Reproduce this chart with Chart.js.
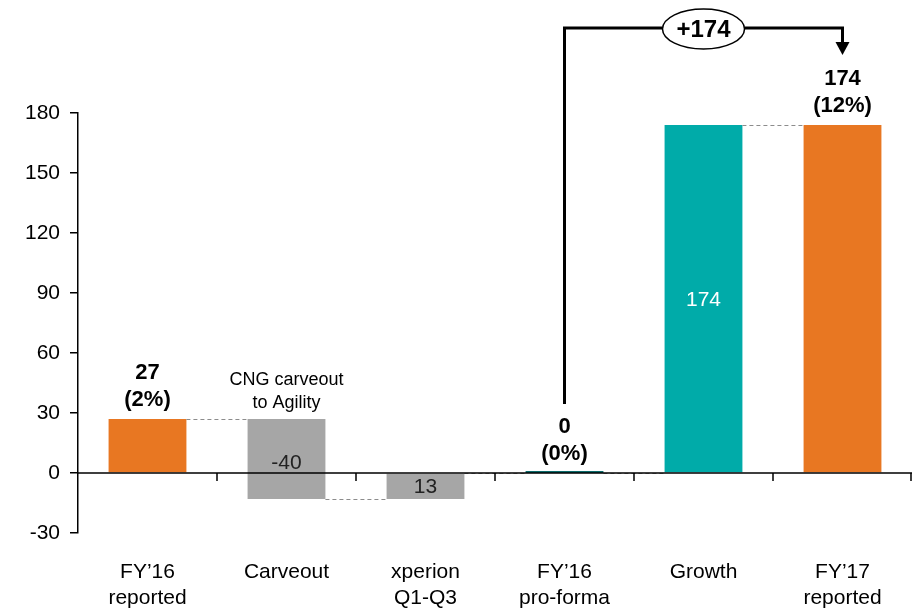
<!DOCTYPE html>
<html lang="en">
<head>
    <meta charset="UTF-8">
    <title>Waterfall</title>
    <script src="https://cdnjs.cloudflare.com/ajax/libs/Chart.js/4.4.0/chart.umd.min.js"></script>
    <style>
        html, body { margin: 0; padding: 0; background: #fff; }
        #wrap { width: 917px; height: 611px; }
    </style>
</head>
<body>
    <div id="wrap"><canvas id="myChart"></canvas></div>

    <script>
        const categories = [['FY\u201916', 'reported'], ['Carveout'], ['xperion', 'Q1-Q3'], ['FY\u201916', 'pro-forma'], ['Growth'], ['FY\u201917', 'reported']];
        // floating bars: [start, end]
        const barRanges = [[0, 27], [27, -13], [-13, 0], [0, 0], [0, 174], [0, 174]];
        const barColors = ['#E87722', '#A6A6A6', '#A6A6A6', '#0B6B6B', '#00ABA9', '#E87722'];
        const totalLabels = [['27', '(2%)'], null, null, ['0', '(0%)'], null, ['174', '(12%)']];
        const innerLabels = [null, '-40', '13', null, '174', null];
        const yTicks = [-30, 0, 30, 60, 90, 120, 150, 180];
        const bridgeLabel = '+174';

        const FONT = 'Liberation Sans, Arial, sans-serif';

        const overlay = {
            id: 'overlay',
            afterDatasetsDraw(chart) {
                const ctx = chart.ctx;
                const x = chart.scales.x, y = chart.scales.y;
                const bars = chart.getDatasetMeta(0).data;
                const area = chart.chartArea;
                const y0 = y.getPixelForValue(0);
                ctx.save();

                // zero-height bar (pro-forma)
                const pf = bars[3];
                ctx.strokeStyle = barColors[3];
                ctx.lineWidth = 2;
                ctx.beginPath();
                ctx.moveTo(pf.x - pf.width / 2, y0 - 1);
                ctx.lineTo(pf.x + pf.width / 2, y0 - 1);
                ctx.stroke();

                // dashed connectors
                ctx.strokeStyle = '#8C8C8C';
                ctx.lineWidth = 1;
                ctx.setLineDash([4, 3]);
                for (let i = 0; i < bars.length - 1; i++) {
                    const lvl = y.getPixelForValue(barRanges[i][1]);
                    ctx.beginPath();
                    ctx.moveTo(bars[i].x + bars[i].width / 2, lvl + 0.5);
                    ctx.lineTo(bars[i + 1].x - bars[i + 1].width / 2, lvl + 0.5);
                    ctx.stroke();
                }
                ctx.setLineDash([]);

                // x axis line at zero with category ticks
                ctx.strokeStyle = '#000';
                ctx.lineWidth = 1.5;
                ctx.beginPath();
                ctx.moveTo(area.left, y0);
                ctx.lineTo(area.right, y0);
                for (let i = 0; i < categories.length; i++) {
                    const bx = i < categories.length - 1
                        ? (x.getPixelForValue(i) + x.getPixelForValue(i + 1)) / 2
                        : area.right - 1;
                    ctx.moveTo(bx, y0);
                    ctx.lineTo(bx, y0 + 8);
                }
                ctx.stroke();

                // total labels
                ctx.fillStyle = '#000';
                ctx.textAlign = 'center';
                ctx.textBaseline = 'middle';
                ctx.font = 'bold 22px ' + FONT;
                totalLabels.forEach((lab, i) => {
                    if (!lab) return;
                    const top = y.getPixelForValue(Math.max(barRanges[i][0], barRanges[i][1]));
                    ctx.fillText(lab[0], bars[i].x, top - 46);
                    ctx.fillText(lab[1], bars[i].x, top - 19);
                });

                // inner labels
                ctx.font = '21px ' + FONT;
                innerLabels.forEach((lab, i) => {
                    if (!lab) return;
                    const mid = y.getPixelForValue((barRanges[i][0] + barRanges[i][1]) / 2);
                    ctx.fillStyle = i === 4 ? '#fff' : '#222';
                    ctx.fillText(lab, bars[i].x, i === 1 ? mid + 4 : mid + 1);
                });

                // note above carveout
                ctx.fillStyle = '#000';
                ctx.font = '18px ' + FONT;
                ctx.fillText('CNG carveout', bars[1].x, y.getPixelForValue(27) - 39);
                ctx.fillText('to Agility', bars[1].x, y.getPixelForValue(27) - 16);

                // bridge bracket
                const xs = bars[3].x, xe = bars[5].x;
                const topY = area.top - 85;
                const cx = bars[4].x;
                ctx.strokeStyle = '#000';
                ctx.lineWidth = 3;
                ctx.beginPath();
                ctx.moveTo(xs, y0 - 69);
                ctx.lineTo(xs, topY);
                ctx.lineTo(cx - 41, topY);
                ctx.moveTo(cx + 41, topY);
                ctx.lineTo(xe, topY);
                ctx.lineTo(xe, topY + 16);
                ctx.stroke();
                ctx.fillStyle = '#000';
                ctx.beginPath();
                ctx.moveTo(xe - 7, topY + 14);
                ctx.lineTo(xe + 7, topY + 14);
                ctx.lineTo(xe, topY + 27);
                ctx.closePath();
                ctx.fill();

                ctx.lineWidth = 1.5;
                ctx.beginPath();
                ctx.ellipse(cx, topY + 1, 41, 20, 0, 0, Math.PI * 2);
                ctx.fillStyle = '#fff';
                ctx.fill();
                ctx.stroke();
                ctx.fillStyle = '#000';
                ctx.font = 'bold 24px ' + FONT;
                ctx.fillText(bridgeLabel, cx, topY + 2);

                ctx.restore();
            }
        };

        const ctx = document.getElementById('myChart').getContext('2d');
        const myChart = new Chart(ctx, {
            type: 'bar',
            data: {
                labels: categories,
                datasets: [{
                    data: barRanges,
                    backgroundColor: barColors,
                    borderWidth: 0,
                    categoryPercentage: 1,
                    barPercentage: 0.56
                }]
            },
            options: {
                responsive: true,
                maintainAspectRatio: false,
                animation: false,
                layout: { padding: { top: 113, right: 5, bottom: 0, left: 0 } },
                plugins: { legend: { display: false }, tooltip: { enabled: false } },
                scales: {
                    x: {
                        grid: { display: false, drawTicks: false },
                        border: { display: false },
                        afterFit: (scale) => { scale.height = 78; },
                        ticks: { color: '#000', padding: 27, font: { family: FONT, size: 21 } }
                    },
                    y: {
                        min: -30,
                        max: 180,
                        afterBuildTicks: (scale) => { scale.ticks = yTicks.map(v => ({ value: v })); },
                        afterFit: (scale) => { scale.width = 78; },
                        grid: { drawOnChartArea: false, drawTicks: true, tickLength: 8, color: '#000', lineWidth: 1.5 },
                        border: { display: true, color: '#000', width: 1.5 },
                        ticks: { color: '#000', padding: 10, font: { family: FONT, size: 21 } }
                    }
                }
            },
            plugins: [overlay]
        });
    </script>
</body>
</html>
